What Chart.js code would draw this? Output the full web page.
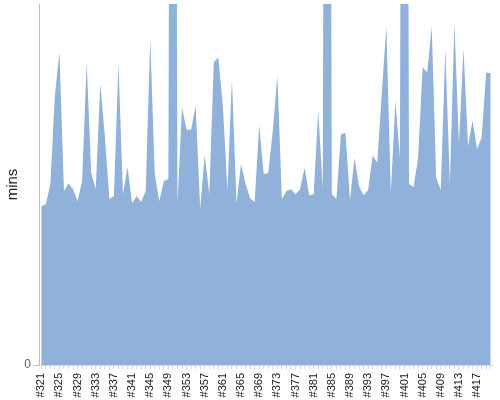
<!DOCTYPE html>
<html>
<head>
<meta charset="utf-8">
<script src="https://cdn.jsdelivr.net/npm/chart.js@4/dist/chart.umd.min.js"></script>
<style>html,body{margin:0;padding:0;background:#fff;}canvas{display:block;}</style>
</head>
<body>
<canvas id="c" width="500" height="400"></canvas>
<script>
const builds = [];
for (let n = 321; n <= 420; n++) builds.push('#' + n);

const minutes = [
  26.4, 26.7, 30.1, 44.8, 52.0, 28.9, 30.2, 29.2, 27.2, 30.6,
  50.3, 31.9, 29.2, 46.8, 38.1, 27.6, 28.1, 50.1, 28.4, 32.9,
  26.9, 28.1, 27.1, 28.9, 54.3, 31.7, 27.2, 30.6, 30.9, 300,
  26.9, 42.8, 39.1, 39.1, 43.1, 26.1, 34.9, 28.4, 50.3, 51.1,
  43.1, 29.1, 47.6, 26.9, 33.4, 30.1, 27.7, 27.1, 39.8, 31.7,
  31.9, 38.9, 48.1, 27.6, 28.9, 29.2, 28.4, 29.2, 32.8, 28.2,
  28.4, 42.3, 29.4, 300, 28.4, 27.6, 38.3, 38.6, 27.4, 34.4,
  29.7, 28.2, 29.1, 34.8, 33.6, 45.1, 56.3, 28.6, 43.9, 34.4,
  300, 30.1, 29.6, 34.4, 49.5, 48.6, 56.3, 31.1, 29.1, 52.6,
  30.2, 56.8, 36.8, 52.6, 36.4, 40.6, 35.9, 37.8, 48.6, 48.5
];

const yTickValues = [0];
const yMax = 60;

new Chart(document.getElementById('c'), {
  type: 'line',
  data: {
    labels: builds,
    datasets: [{
      data: minutes,
      fill: 'origin',
      backgroundColor: '#8fb1da',
      borderColor: '#8fb1da',
      borderWidth: 0,
      pointRadius: 0,
      tension: 0
    }]
  },
  options: {
    responsive: false,
    animation: false,
    events: [],
    layout: { padding: { top: 4, right: 7, bottom: 0, left: 0 } },
    plugins: { legend: { display: false }, tooltip: { enabled: false } },
    scales: {
      x: {
        offset: true,
        border: { display: true, color: '#d8d8d8' },
        grid: { display: true, drawOnChartArea: false, tickLength: 4, color: '#d8d8d8', offset: false },
        ticks: {
          autoSkip: false,
          maxRotation: 90,
          minRotation: 90,
          padding: 4,
          color: '#222',
          font: { family: 'Liberation Sans, Arial, sans-serif', size: 11 },
          callback: function (v, i) { return i % 4 === 0 ? builds[i] : ''; }
        },
        afterFit: function (s) { s.height = 35; s.paddingLeft = 0; s.paddingRight = 0; s.paddingTop = 0; s.paddingBottom = 0; }
      },
      y: {
        min: 0,
        max: yMax,
        border: { display: true, color: '#bbbbbb', width: 1 },
        grid: { display: true, drawOnChartArea: false, tickLength: 5, color: '#bbbbbb' },
        afterBuildTicks: function (s) { s.ticks = yTickValues.map(v => ({ value: v })); },
        ticks: {
          color: '#666',
          padding: 3,
          font: { family: 'Liberation Sans, Arial, sans-serif', size: 12 }
        },
        title: {
          display: true,
          text: 'mins',
          color: '#222',
          padding: { top: 4, bottom: 0 },
          font: { family: 'Liberation Sans, Arial, sans-serif', size: 15 }
        },
        afterFit: function (s) { s.width = 39; s.paddingTop = 0; s.paddingBottom = 0; s.paddingLeft = 0; s.paddingRight = 0; }
      }
    }
  }
});
</script>
</body>
</html>
